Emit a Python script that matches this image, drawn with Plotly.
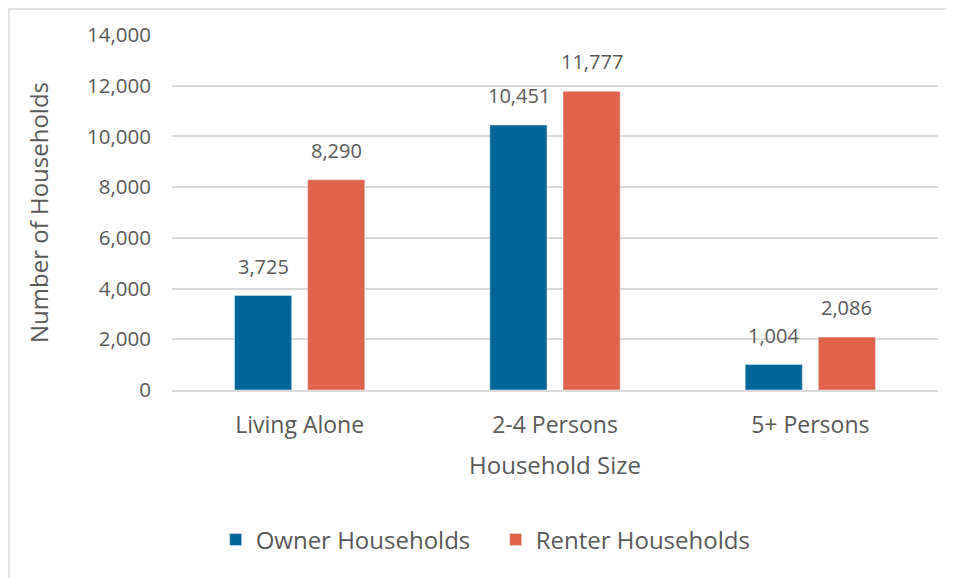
import plotly.graph_objects as go

categories = ["Living Alone", "2-4 Persons", "5+ Persons"]
owner = [3725, 10451, 1004]
renter = [8290, 11777, 2086]
series_names = ["Owner Households", "Renter Households"]
y_ticks = [0, 2000, 4000, 6000, 8000, 10000, 12000, 14000]

BLUE = "#00669A"
RED = "#E0624A"
TXT = "#595959"
FONT = "Open Sans, sans-serif"

# figure is placed at (8,8) in the page by the default body margin
W, H = 946, 570
L, R, T, B = 164, 16, 27, 188
PW, PH = W - L - R, H - T - B

fig = go.Figure()
fig.add_trace(go.Bar(x=categories, y=owner, name=series_names[0], marker_color=BLUE))
fig.add_trace(go.Bar(x=categories, y=renter, name=series_names[1], marker_color=RED))

annotations = []
for i, cat in enumerate(categories):
    for vals, shift in ((owner, -36.5), (renter, 36.5)):
        annotations.append(dict(
            x=cat, y=vals[i], xref="x", yref="y", text=f"{vals[i]:,}",
            showarrow=False, xanchor="center", yanchor="bottom",
            xshift=shift, yshift=14,
            font=dict(size=20, color=TXT, family=FONT),
        ))

fig.update_layout(
    width=W, height=H,
    margin=dict(l=L, r=R, t=T, b=B),
    paper_bgcolor="white", plot_bgcolor="white",
    barmode="group", bargap=0.427, bargroupgap=0.219,
    font=dict(family=FONT, color=TXT, size=20),
    showlegend=True,
    legend=dict(orientation="h", x=0.057, xanchor="left", y=-0.4225, yanchor="middle",
                font=dict(size=24, color=TXT, family=FONT),
                entrywidth=235, entrywidthmode="pixels",
                traceorder="normal"),
    xaxis=dict(
        title=dict(text="Household Size", font=dict(size=24, color=TXT, family=FONT), standoff=18),
        tickfont=dict(size=23, color=TXT, family=FONT),
        showline=True, linecolor="#d9d9d9", linewidth=1.5,
        ticks="", ticklabelstandoff=14,
    ),
    yaxis=dict(
        title=dict(text="Number of Households", font=dict(size=24, color=TXT, family=FONT), standoff=31),
        range=[0, 14000], tickvals=y_ticks, tickformat=",",
        tickfont=dict(size=20.5, color=TXT, family=FONT),
        gridcolor="#d9d9d9", gridwidth=1.5, zeroline=False,
        ticks="", ticklabelstandoff=20,
    ),
    annotations=annotations,
    shapes=[dict(type="rect", xref="paper", yref="paper",
                 x0=(1 - L) / PW, x1=(W + 10 - L) / PW,
                 y0=-(B + 10) / PH, y1=(PH + T - 1) / PH,
                 line=dict(color="#d9d9d9", width=1.5), layer="below")],
)

fig.write_html("out.html")
